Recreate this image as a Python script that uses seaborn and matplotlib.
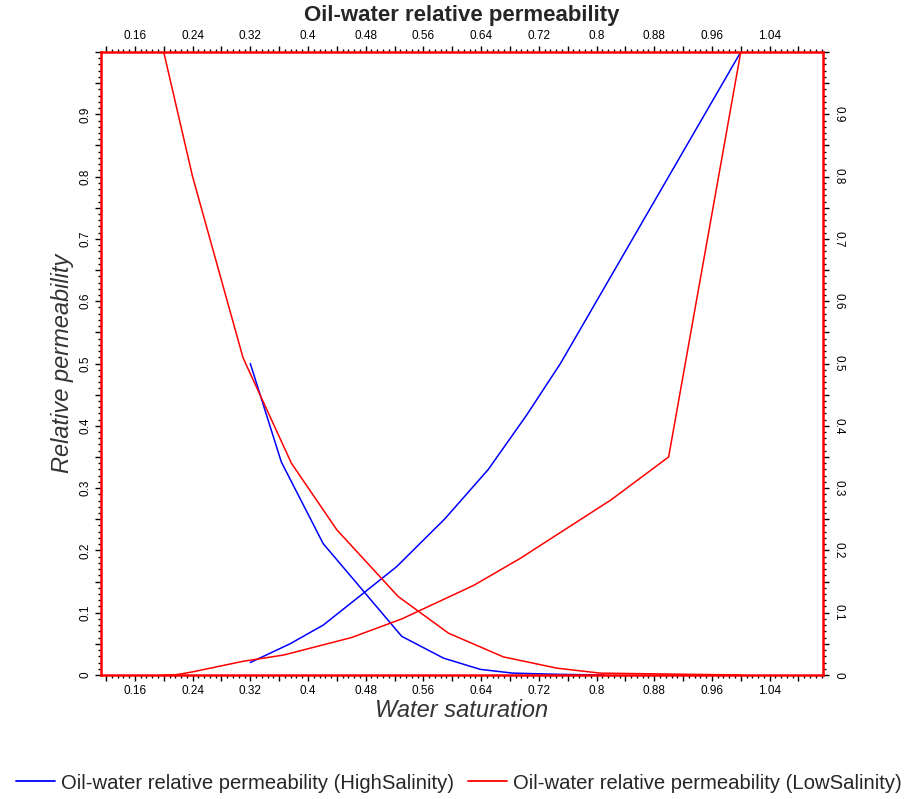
import numpy as np
import pandas as pd
import seaborn as sns
from matplotlib import pyplot as plt
from matplotlib.ticker import FixedLocator, FuncFormatter
from matplotlib.lines import Line2D

# water saturation / relative permeability
hs_kro_sw = [0.32, 0.363, 0.421, 0.53, 0.588, 0.639, 0.684, 0.75, 0.81]
hs_kro = [0.5, 0.342, 0.211, 0.062, 0.027, 0.009, 0.003, 0.001, 0.0]
hs_krw_sw = [0.32, 0.375, 0.421, 0.47, 0.523, 0.59, 0.65, 0.703, 0.75, 0.8, 0.9, 1.0]
hs_krw = [0.02, 0.05, 0.08, 0.125, 0.174, 0.251, 0.33, 0.417, 0.5, 0.6, 0.8, 1.0]

ls_kro_sw = [0.2, 0.24, 0.31, 0.377, 0.44, 0.525, 0.595, 0.671, 0.745, 0.805, 1.0]
ls_kro = [1.0, 0.8, 0.509, 0.34, 0.233, 0.126, 0.067, 0.029, 0.011, 0.003, 0.0]
ls_krw_sw = [0.2, 0.215, 0.24, 0.31, 0.366, 0.46, 0.53, 0.63, 0.694, 0.82, 0.9, 1.0]
ls_krw = [0.0, 0.0, 0.005, 0.022, 0.032, 0.06, 0.09, 0.144, 0.187, 0.281, 0.35, 1.0]

series_names = ['Oil-water relative permeability (HighSalinity)',
                'Oil-water relative permeability (LowSalinity)']
x_major = np.round(np.arange(0.12, 1.10, 0.04), 2)
x_minor = np.round(np.arange(0.12, 1.114, 0.008), 3)
y_major = np.round(np.arange(0.0, 1.001, 0.05), 2)
y_minor = np.round(np.arange(0.0, 1.001, 0.01), 2)

sns.set_style("white")
plt.rcParams['font.family'] = ['Liberation Sans', 'DejaVu Sans']

fig = plt.figure(figsize=(9.18, 7.99), dpi=100)
ax = fig.add_axes([0.110, 0.1552, 0.7865, 0.7797])

curves = [(hs_kro_sw, hs_kro, 'blue'), (hs_krw_sw, hs_krw, 'blue'),
          (ls_kro_sw, ls_kro, 'red'), (ls_krw_sw, ls_krw, 'red')]
for sw, kr, col in curves:
    df = pd.DataFrame({'sw': sw, 'kr': kr})
    sns.lineplot(data=df, x='sw', y='kr', color=col, lw=1.1, sort=False,
                 estimator=None, ax=ax)

ax.set_xlim(0.113, 1.114)
ax.set_ylim(0, 1)

ax.xaxis.set_major_locator(FixedLocator(x_major))
ax.xaxis.set_minor_locator(FixedLocator(x_minor))
ax.yaxis.set_major_locator(FixedLocator(y_major))
ax.yaxis.set_minor_locator(FixedLocator(y_minor))

def xfmt(v, pos):
    if int(round(v / 0.04)) % 2 == 0:
        return ('%.2f' % v).rstrip('0')
    return ''

def yfmt(v, pos):
    k = int(round(v / 0.05))
    if k % 2 == 0 and k < 20:
        return '0' if k == 0 else ('%.1f' % v)
    return ''

ax.xaxis.set_major_formatter(FuncFormatter(xfmt))
ax.yaxis.set_major_formatter(FuncFormatter(yfmt))

ax.tick_params(which='both', direction='out', colors='black', width=1,
               top=True, bottom=True, left=True, right=True,
               labeltop=True, labelright=True, labelsize=8.5, pad=3)
ax.tick_params(which='major', length=4)
ax.tick_params(which='minor', length=2)
for t in ax.yaxis.get_major_ticks():
    t.label1.set_rotation(90)
    t.label1.set_va('center')
    t.label2.set_rotation(-90)
    t.label2.set_va('center')

for s in ax.spines.values():
    s.set_color('red')
    s.set_linewidth(1.8)

ax.set_xlabel('Water saturation', fontsize=17, style='italic', color='#333333', labelpad=2)
ax.set_ylabel('Relative permeability', fontsize=17, style='italic', color='#333333', labelpad=4)
fig.text(0.503, 0.980, 'Oil-water relative permeability', ha='center', va='center',
         fontsize=16, fontweight='bold')

handles = [Line2D([], [], color='blue', lw=1.3), Line2D([], [], color='red', lw=1.3)]
fig.legend(handles, series_names, loc='center', bbox_to_anchor=(0.5, 0.02), ncol=2,
           frameon=False, fontsize=14.6, handlelength=1.9, handletextpad=0.3,
           columnspacing=0.7, borderaxespad=0)

fig.savefig('out.png', dpi=100)
